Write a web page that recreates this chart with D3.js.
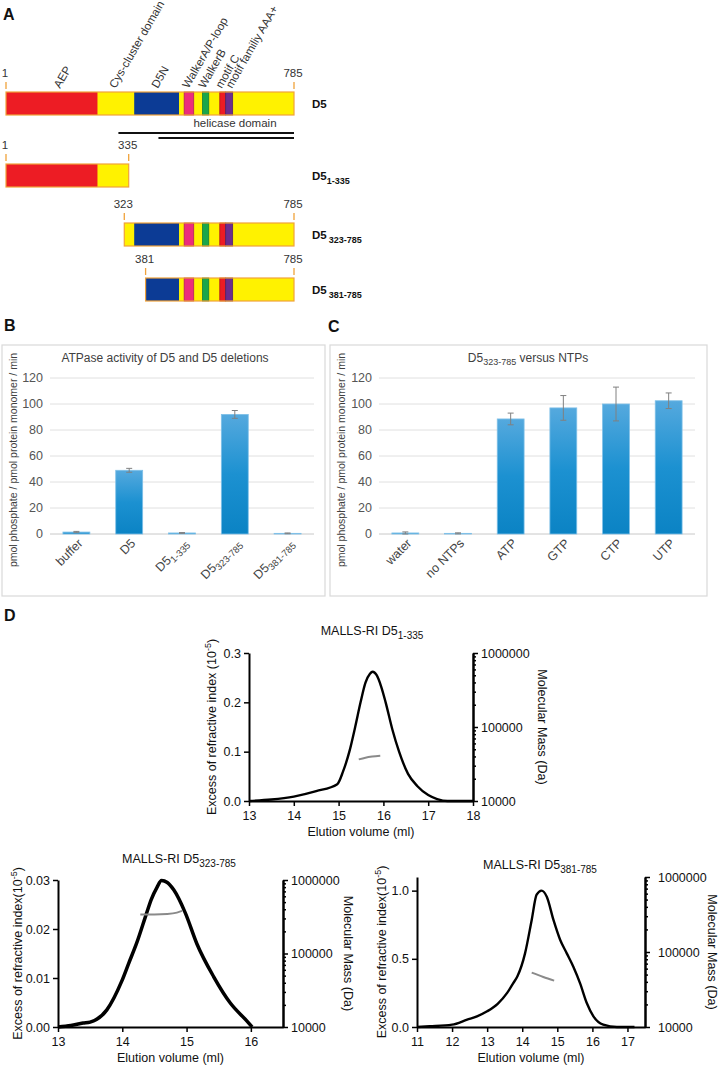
<!DOCTYPE html>
<html><head><meta charset="utf-8">
<script src="https://cdn.jsdelivr.net/npm/d3@7"></script>
<style>body{margin:0;background:#fff} svg{display:block;font-family:Arial,"Liberation Sans",Helvetica,sans-serif}</style>
</head><body><svg id="fig" width="720" height="1065"></svg>
<script>
// ---------------- Panel A data ----------------
const constructNames = ["D5","D5","D5","D5"];
const constructSubs = ["","1-335","323-785","381-785"];
const constructStart = [1,1,323,381];
const constructEnd = [785,335,785,785];
const segNames = ["AEP","D5N","WalkerA","WalkerB","motifC","AAA+"];
const segStart = [1,350,486,536,583,599];
const segEnd = [250,472,512,553,599,618];
const segColors = ["#ed1c24","#0c3b95","#ec2c7c","#1aa64b","#ed1c24","#6b2d8f"];
const domainLabels = ["AEP","Cys-cluster domain","D5N","WalkerA/P-loop","WalkerB","motif C","motif familiy AAA+"];
const domainLabelAt = [148,299,414,498,542,588,616];
const helicaseStart = [307,416];
const helicaseEnd = [785,785];

// ---------------- Panel B data ----------------
const bCats = ["buffer","D5","D5|1-335","D5|323-785","D5|381-785"];
const bVals = [1.5,49,0.8,92,0.5];
const bErr = [0.5,1.5,0.3,3,0.3];
// ---------------- Panel C data ----------------
const cCats = ["water","no NTPs","ATP","GTP","CTP","UTP"];
const cVals = [0.8,0.5,88.5,97,100,102.5];
const cErr = [0.8,0.4,4.5,9.5,13,6];
const barTicks = [0,20,40,60,80,100,120];

// ---------------- Panel D data ----------------
const m1Vol = [13,13.5,14,14.5,14.97,15.1,15.24,15.37,15.49,15.6,15.7,15.76,15.85,15.95,16.05,16.2,16.35,16.55,16.76,17,17.2,17.43,18];
const m1RI  = [0,0.003,0.009,0.02,0.034,0.06,0.10,0.15,0.20,0.24,0.258,0.262,0.255,0.232,0.20,0.145,0.10,0.055,0.03,0.012,0.004,0,0];
const m1MwVol = [15.45,15.6,15.75,15.93];
const m1Mw = [36500,38500,39800,40800];
const m1YTicks = [0,0.1,0.2,0.3];
const m1XTicks = [13,14,15,16,17,18];

const m2Vol = [13,13.2,13.39,13.5,13.76,13.99,14.1,14.22,14.38,14.45,14.54,14.61,14.7,14.8,14.98,15.16,15.42,15.68,15.94,16.02];
const m2RI  = [0,0.0003,0.0008,0.001,0.0035,0.0093,0.013,0.017,0.0233,0.026,0.0285,0.0299,0.0295,0.028,0.0233,0.017,0.0103,0.0049,0.0012,0];
const m2MwVol = [14.28,14.5,14.7,14.85,14.93];
const m2Mw = [340000,340000,345000,360000,380000];
const m2YTicks = [0,0.01,0.02,0.03];
const m2XTicks = [13,14,15,16];

const m3Vol = [11,11.36,12.0,12.43,12.71,13.0,13.3,13.57,13.74,13.86,14.08,14.27,14.41,14.55,14.7,14.89,15.08,15.27,15.46,15.65,15.84,16.03,16.31,16.7,17.2];
const m3RI  = [0,0.005,0.017,0.054,0.078,0.115,0.17,0.25,0.32,0.37,0.54,0.785,0.97,1.0,0.955,0.785,0.64,0.54,0.44,0.32,0.176,0.078,0.017,0,0];
const m3MwVol = [14.27,14.6,14.91];
const m3Mw = [53000,46500,41500];
const m3YTicks = [0,0.5,1.0];
const m3XTicks = [11,12,13,14,15,16,17];
const mwTicks = [10000,100000,1000000];

// =========================================================
const svg = d3.select("#fig");
const defs = svg.append("defs");
const grad = defs.append("linearGradient").attr("id","barGrad").attr("x1",0).attr("y1",0).attr("x2",0).attr("y2",1);
grad.append("stop").attr("offset","0%").attr("stop-color","#55a9de");
grad.append("stop").attr("offset","50%").attr("stop-color","#1c91d1");
grad.append("stop").attr("offset","100%").attr("stop-color","#0b83c4");

// panel letters
[["A",3,20],["B",4,331],["C",328,332],["D",4,621]].forEach(([t,x,y])=>{
  svg.append("text").attr("x",x).attr("y",y).attr("font-size",16).attr("font-weight","bold").attr("fill","#111").text(t);
});

// ---------------- Panel A ----------------
const xA = d3.scaleLinear().domain([1,785]).range([6,294]);
const rowTop = [92,164,223,278];
const rowH = 23;
const gA = svg.append("g");
constructStart.forEach((s,i)=>{
  const e = constructEnd[i], top = rowTop[i];
  const g = gA.append("g");
  g.append("rect").attr("x",xA(s)).attr("y",top).attr("width",xA(e)-xA(s)).attr("height",rowH).attr("fill","#fff200");
  segStart.forEach((ss,j)=>{
    const a = Math.max(ss,s), b = Math.min(segEnd[j],e);
    if (b>a) {
      g.append("rect").attr("x",xA(a)).attr("y",top).attr("width",xA(b)-xA(a)).attr("height",rowH)
        .attr("fill",segColors[j]).attr("stroke", j>=2 ? d3.color(segColors[j]).darker(0.8) : "none").attr("stroke-width",j>=2?0.8:0);
    }
  });
  g.append("rect").attr("x",xA(s)).attr("y",top).attr("width",xA(e)-xA(s)).attr("height",rowH)
    .attr("fill","none").attr("stroke","#f0a23a").attr("stroke-width",1.2);
  [s,e].forEach(v=>{
    g.append("line").attr("x1",xA(v)).attr("x2",xA(v)).attr("y1",top-10).attr("y2",top-3).attr("stroke","#f0a23a").attr("stroke-width",1.3);
    g.append("text").attr("x",xA(v)-1).attr("y",top-15).attr("text-anchor","middle").attr("font-size",11.5).attr("fill","#333").text(v);
  });
  const lbl = g.append("text").attr("x",312).attr("y",top+16).attr("font-size",11.5).attr("font-weight","bold").attr("fill","#111").text(constructNames[i]);
  if (constructSubs[i]) lbl.append("tspan").attr("dx", i===1?0:2).attr("dy",4).attr("font-size",9).text(constructSubs[i]);
});
domainLabels.forEach((t,i)=>{
  gA.append("text").attr("transform",`translate(${xA(domainLabelAt[i])},89) rotate(-60)`)
    .attr("font-size",11.5).attr("fill","#333").text(t);
});
helicaseStart.forEach((s,i)=>{
  gA.append("line").attr("x1",xA(s)).attr("x2",xA(helicaseEnd[i])).attr("y1",133+i*5).attr("y2",133+i*5).attr("stroke","#111").attr("stroke-width",2);
});
gA.append("text").attr("x",235).attr("y",127).attr("text-anchor","middle").attr("font-size",11.5).attr("fill","#333").text("helicase domain");

// ---------------- Panels B & C ----------------
function barPanel(cfg){
  const g = svg.append("g");
  g.append("rect").attr("x",cfg.bx0).attr("y",345).attr("width",cfg.bx1-cfg.bx0).attr("height",251).attr("fill","none").attr("stroke","#d9d9d9").attr("stroke-width",1.2);
  const x = d3.scaleBand().domain(cfg.cats).range([cfg.px0,cfg.px1]).paddingInner(0.49).paddingOuter(0.245);
  const y = d3.scaleLinear().domain([0,120]).range([534,378]);
  barTicks.forEach(t=>{
    g.append("line").attr("x1",cfg.px0).attr("x2",cfg.px1).attr("y1",y(t)).attr("y2",y(t)).attr("stroke", t===0?"#c8c8c8":"#e0e0e0").attr("stroke-width",1);
    g.append("text").attr("x",cfg.px0-7).attr("y",y(t)).attr("dy","0.35em").attr("text-anchor","end").attr("font-size",12.5).attr("fill","#555").text(t);
  });
  cfg.cats.forEach((c,i)=>{
    const v = cfg.vals[i], e = cfg.errs[i];
    g.append("rect").attr("x",x(c)).attr("y",y(v)).attr("width",x.bandwidth()).attr("height",y(0)-y(v))
      .attr("fill","url(#barGrad)").attr("stroke","#7fc0e8").attr("stroke-width",0.8);
    const cx = x(c)+x.bandwidth()/2;
    g.append("line").attr("x1",cx).attr("x2",cx).attr("y1",y(v+e)).attr("y2",y(v-e)).attr("stroke","#808080").attr("stroke-width",1);
    [v+e,v-e].forEach(w=>g.append("line").attr("x1",cx-3).attr("x2",cx+3).attr("y1",y(w)).attr("y2",y(w)).attr("stroke","#808080").attr("stroke-width",1));
    // rotated category label: measure, then place its start so that its end sits at (ex, ey)
    const parts = c.split("|");
    const ex = cx + 7, ey = 544;
    const lab = g.append("text").attr("font-size",12.5).attr("fill","#444");
    lab.append("tspan").text(parts[0]);
    if (parts[1]) lab.append("tspan").attr("dy",3).attr("font-size",9.5).text(parts[1]);
    const L = lab.node().getComputedTextLength();
    const a = Math.PI/4;
    const sx = ex - L*Math.cos(a), sy = ey + L*Math.sin(a);
    lab.attr("transform", `translate(${sx.toFixed(1)},${sy.toFixed(1)}) rotate(-45)`);
  });
  const tt = g.append("text").attr("x",cfg.tx).attr("y",362).attr("text-anchor","middle").attr("font-size",12).attr("fill","#404040");
  cfg.title(tt);
  g.append("text").attr("transform",`translate(${cfg.yx},460) rotate(-90)`).attr("text-anchor","middle").attr("font-size",10.5).attr("fill","#404040")
    .text("pmol phosphate / pmol protein monomer / min");
}
barPanel({bx0:2,bx1:325,px0:50,px1:314,cats:bCats,vals:bVals,errs:bErr,tx:165,yx:17,
  title:t=>t.text("ATPase activity of D5 and D5 deletions")});
barPanel({bx0:330,bx1:707,px0:379,px1:695,cats:cCats,vals:cVals,errs:cErr,tx:528,yx:345,
  title:t=>{t.append("tspan").text("D5");t.append("tspan").attr("dy",3).attr("font-size",9).text("323-785");t.append("tspan").attr("dy",-3).text(" versus NTPs");}});

// ---------------- Panel D ----------------
function malls(cfg){
  const g = svg.append("g");
  const x = d3.scaleLinear().domain(cfg.xd).range([cfg.x0,cfg.x1]);
  const y = d3.scaleLinear().domain(cfg.yd).range([cfg.yb, cfg.yt]);
  const yl = d3.scaleLog().domain([1e4,1e6]).range([cfg.yb, cfg.yrt]);
  const font = s=>s.attr("font-size",12.5).attr("fill","#111").attr("font-family","Arial, 'Liberation Sans', sans-serif");
  const xa = g.append("g").attr("transform",`translate(0,${cfg.yb})`).call(d3.axisBottom(x).tickValues(cfg.xt).tickFormat(d3.format("d")).tickSize(5).tickSizeOuter(0));
  const ya = g.append("g").attr("transform",`translate(${cfg.x0},0)`).call(d3.axisLeft(y).tickValues(cfg.yt_).tickFormat(d3.format(cfg.yf)).tickSize(5).tickSizeOuter(0));
  const minor = [];
  [1e4,1e5].forEach(b=>{for(let k=2;k<=9;k++) minor.push(b*k);});
  g.append("g").attr("transform",`translate(${cfg.x1},0)`).call(d3.axisRight(yl).tickValues(minor).tickFormat("").tickSize(3).tickSizeOuter(0));
  const ra = g.append("g").attr("transform",`translate(${cfg.x1},0)`).call(d3.axisRight(yl).tickValues(mwTicks).tickFormat(d3.format("d")).tickSize(5).tickSizeOuter(0).tickPadding(cfg.rpad||3));
  [xa,ya,ra].forEach(a=>{a.selectAll("text").call(font);});
  ra.selectAll("text").attr("dy", "0.32em");
  g.selectAll(".domain").attr("stroke","#000").attr("stroke-width",2);
  g.selectAll(".tick line").attr("stroke","#000").attr("stroke-width",1.5);
  xa.selectAll("text").attr("dy","0.9em");
  const line = d3.line().x(d=>x(d[0])).y(d=>y(d[1])).curve(d3.curveMonotoneX);
  g.append("path").datum(cfg.vol.map((v,i)=>[v,cfg.ri[i]])).attr("d",line).attr("fill","none").attr("stroke","#000").attr("stroke-width",cfg.lw).attr("stroke-linejoin","round");
  const mwLine = d3.line().x(d=>x(d[0])).y(d=>yl(d[1])).curve(d3.curveMonotoneX);
  g.append("path").datum(cfg.mwv.map((v,i)=>[v,cfg.mw[i]])).attr("d",mwLine).attr("fill","none").attr("stroke","#8a8a8a").attr("stroke-width",2);
  const t = g.append("text").attr("x",cfg.tx).attr("y",cfg.ty).attr("text-anchor","middle").attr("font-size",12.5).attr("fill","#111").text("MALLS-RI D5");
  t.append("tspan").attr("dy",3.5).attr("font-size",10).text(cfg.sub);
  g.append("text").attr("x",(cfg.x0+cfg.x1)/2).attr("y",cfg.yb+35).attr("text-anchor","middle").attr("font-size",12.5).attr("fill","#111").text("Elution volume (ml)");
  const lt = g.append("text").attr("transform",`translate(${cfg.ltx},${(cfg.yb+cfg.yt)/2}) rotate(-90)`).attr("text-anchor","middle").attr("font-size",12.5).attr("fill","#111").text(cfg.ltxt);
  lt.append("tspan").attr("dy",-5).attr("font-size",9).text("-5");
  lt.append("tspan").attr("dy",5).text(")");
  g.append("text").attr("transform",`translate(${cfg.rtx},${(cfg.yb+cfg.yt)/2}) rotate(90)`).attr("text-anchor","middle").attr("font-size",12.5).attr("fill","#111").text("Molecular Mass (Da)");
}
malls({x0:249,x1:473,yb:801,yt:653,yrt:653,xd:[13,18],yd:[0,0.3],xt:m1XTicks,yt_:m1YTicks,yf:".1f",
  vol:m1Vol,ri:m1RI,mwv:m1MwVol,mw:m1Mw,lw:2.4,tx:372,ty:635,sub:"1-335",ltx:216,ltxt:"Excess of refractive index (10",rtx:538});
malls({x0:58,x1:283,yb:1027,yt:880,yrt:880,xd:[13,16.5],yd:[0,0.03],xt:m2XTicks,yt_:m2YTicks,yf:".2f",
  vol:m2Vol,ri:m2RI,mwv:m2MwVol,mw:m2Mw,lw:3.5,tx:179,ty:863,sub:"323-785",ltx:22,ltxt:"Excess of refractive index(10",rtx:344});
malls({x0:417,x1:645,yb:1027,yt:877,yrt:877,xd:[11,17.5],yd:[0,1.1],xt:m3XTicks,yt_:m3YTicks,yf:".1f",rpad:8,
  vol:m3Vol,ri:m3RI,mwv:m3MwVol,mw:m3Mw,lw:2.4,tx:540,ty:869,sub:"381-785",ltx:386,ltxt:"Excess of refractive index(10",rtx:708});
</script></body></html>
